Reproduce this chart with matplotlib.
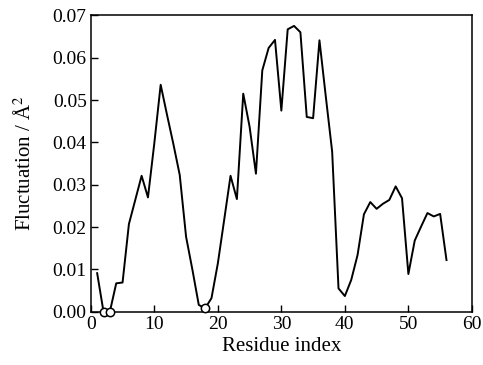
import numpy as np
import matplotlib.pyplot as plt

plt.rcParams['font.family'] = ['Liberation Serif', 'DejaVu Serif']
plt.rcParams['mathtext.fontset'] = 'stix'

# Residue fluctuation data
residue = np.arange(1, 57)
fluct = [0.0091, 0.0, 0.0, 0.0067, 0.0069, 0.0207, 0.0264, 0.0321, 0.0270, 0.0398,
         0.0536, 0.0465, 0.0396, 0.0323, 0.0177, 0.0099, 0.0016, 0.0008, 0.0032, 0.0114,
         0.0217, 0.0321, 0.0266, 0.0515, 0.0437, 0.0326, 0.0570, 0.0623, 0.0642, 0.0475,
         0.0667, 0.0675, 0.0660, 0.0460, 0.0457, 0.0641, 0.0508, 0.0378, 0.0055, 0.0037,
         0.0075, 0.0134, 0.0230, 0.0259, 0.0243, 0.0255, 0.0264, 0.0296, 0.0268, 0.0089,
         0.0168, 0.0201, 0.0233, 0.0225, 0.0231, 0.0122]
zero_res = [2, 3, 18]

fig = plt.figure(figsize=(4.83, 3.65), dpi=100)
ax = fig.add_axes([0.188, 0.146, 0.789, 0.812])

ax.plot(residue, fluct, color='black', lw=1.4)
zy = [fluct[r - 1] for r in zero_res]
ax.plot(zero_res, zy, 'o', mfc='white', mec='black', ms=6, mew=1.1, clip_on=False, zorder=3)

ax.set_xlim(0, 60)
ax.set_ylim(0, 0.07)
ax.set_xticks(np.arange(0, 61, 10))
ax.set_yticks(np.arange(0, 0.071, 0.01))
ax.set_yticklabels(['%.2f' % v for v in np.arange(0, 0.071, 0.01)])
ax.tick_params(direction='in', length=5, width=1, labelsize=14, pad=3, top=False, right=False)
for s in ax.spines.values():
    s.set_linewidth(1.1)

ax.set_xlabel('Residue index', fontsize=15, labelpad=3)
ax.set_ylabel('Fluctuation / Å$^2$', fontsize=15, labelpad=12)

fig.savefig('out.png', dpi=100)
